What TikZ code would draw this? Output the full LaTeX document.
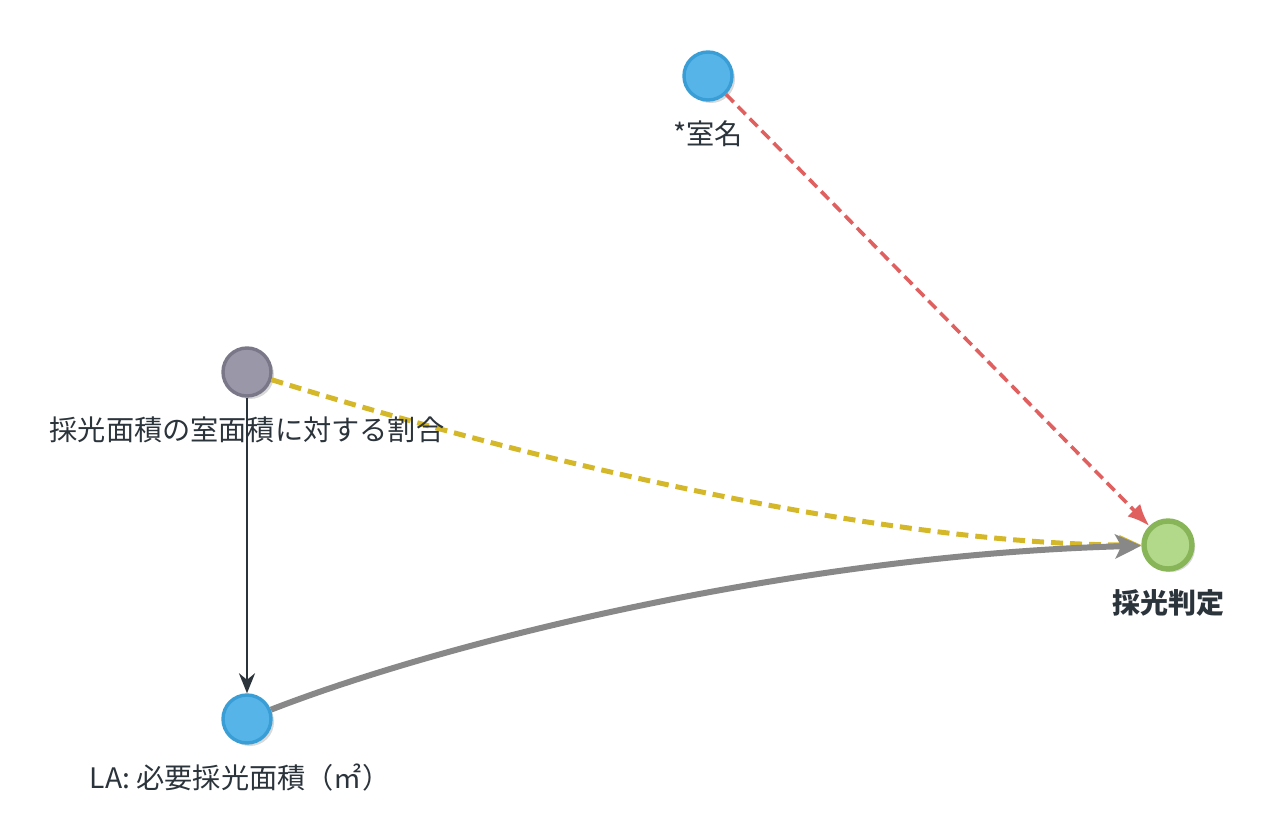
\documentclass[tikz,border=0pt]{standalone}
\usepackage{fontspec}
\newfontfamily\jp{Noto Sans CJK JP}
\usetikzlibrary{arrows.meta,shadows}
\definecolor{txt}{HTML}{2B333B}
\definecolor{bluef}{HTML}{56B4E9}
\definecolor{blued}{HTML}{3A9ED6}
\definecolor{grayf}{HTML}{9A98A8}
\definecolor{grayd}{HTML}{7A7888}
\definecolor{greenf}{HTML}{B2D98A}
\definecolor{greend}{HTML}{88B558}
\definecolor{redl}{HTML}{E06060}
\definecolor{yell}{HTML}{D4B82A}
\definecolor{edgegray}{HTML}{888888}
\begin{document}
\begin{tikzpicture}[x=0.5pt,y=-0.5pt,
  dot/.style={circle,minimum size=24pt,inner sep=0pt,line width=1.7pt,
    drop shadow={shadow xshift=1.5pt,shadow yshift=-1.5pt,opacity=0.3}},
  bluedot/.style={dot,fill=bluef,draw=blued},
  graydot/.style={dot,fill=grayf,draw=grayd},
  greendot/.style={dot,fill=greenf,draw=greend,line width=2.7pt,minimum size=24pt},
  lbl/.style={font=\jp\fontsize{14.1}{16}\selectfont,text=txt,inner sep=0pt},
  blbl/.style={lbl,font=\jp\bfseries\fontsize{14}{16}\selectfont}]
\useasboundingbox (0,0) rectangle (1276,824);
\node[bluedot] (room) at (708,76) {};
\node[graydot] (ratio) at (247,372) {};
\node[bluedot] (la) at (247,719) {};
\node[greendot] (judge) at (1168,545) {};
% edges
\draw[redl,line width=1.8pt,dash pattern=on 5.5pt off 3pt,-{Latex[length=11pt,width=9pt]}] (room) -- (judge);
\draw[txt,line width=1.2pt,-{Stealth[length=10pt,width=8pt]}] (ratio) -- (la);
\draw[yell,line width=2.5pt,dash pattern=on 6pt off 3.5pt,-{Stealth[length=11pt,width=10pt]}] (ratio) .. controls (560,470) and (900,545) .. (judge);
\draw[edgegray,line width=3pt,-{Stealth[length=13pt,width=12pt,inset=3pt]}] (la) .. controls (450,640) and (800,555) .. (judge);
% labels
\node[lbl] (roomt) at (708,134) {*室名};
\node[lbl] (ratiot) at (247,430) {採光面積の室面積に対する割合};
\node[lbl] (lat) at (240,778) {LA: 必要採光面積（㎡）};
\node[blbl] (judget) at (1168,603) {採光判定};
\end{tikzpicture}
\end{document}
